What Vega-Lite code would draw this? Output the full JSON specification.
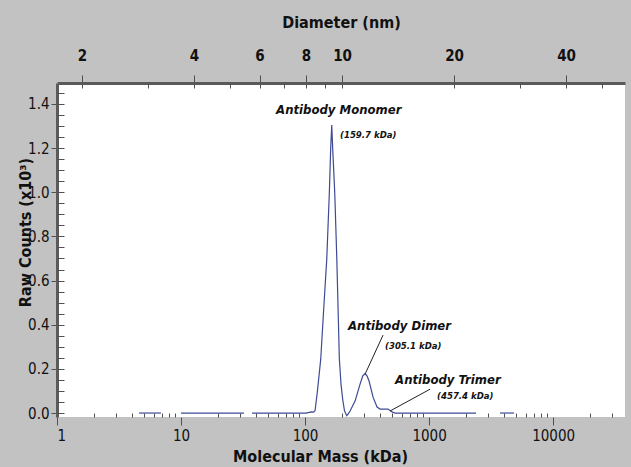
{
  "$schema": "https://vega.github.io/schema/vega-lite/v6.json",
  "width": 568,
  "height": 334,
  "autosize": {"type": "none"},
  "padding": {"left": 57, "top": 83, "right": 6, "bottom": 50},
  "background": "#c2c2c2",
  "config": {
    "view": {"fill": "white", "stroke": null},
    "font": "DejaVu Sans Condensed, Liberation Sans, sans-serif",
    "axis": {
      "labelFont": "DejaVu Sans Condensed, Liberation Sans, sans-serif",
      "titleFont": "DejaVu Sans Condensed, Liberation Sans, sans-serif",
      "labelColor": "#111111",
      "titleColor": "#111111",
      "tickColor": "#505050",
      "domainColor": "#5a5a5a",
      "grid": false,
      "labelFontSize": 15,
      "titleFontSize": 16,
      "titleFontWeight": "bold"
    }
  },
  "datasets": {
    "curve": [
      {"mass": 4.58, "counts": 0, "seg": 1},
      {"mass": 6.9, "counts": 0, "seg": 1},
      {"mass": 10.0, "counts": 0, "seg": 2},
      {"mass": 32.2, "counts": 0, "seg": 2},
      {"mass": 37.4, "counts": 0, "seg": 3},
      {"mass": 101.9, "counts": 0, "seg": 3},
      {"mass": 108, "counts": 0.003, "seg": 3},
      {"mass": 113, "counts": 0.005, "seg": 3},
      {"mass": 117, "counts": 0.004, "seg": 3},
      {"mass": 120.4, "counts": 0.01, "seg": 3},
      {"mass": 125.6, "counts": 0.095, "seg": 3},
      {"mass": 133.8, "counts": 0.244, "seg": 3},
      {"mass": 141, "counts": 0.46, "seg": 3},
      {"mass": 149.6, "counts": 0.696, "seg": 3},
      {"mass": 157.0, "counts": 0.998, "seg": 3},
      {"mass": 161, "counts": 1.2, "seg": 3},
      {"mass": 164.2, "counts": 1.305, "seg": 3},
      {"mass": 167, "counts": 1.2, "seg": 3},
      {"mass": 173.6, "counts": 0.998, "seg": 3},
      {"mass": 180.4, "counts": 0.696, "seg": 3},
      {"mass": 189.1, "counts": 0.244, "seg": 3},
      {"mass": 195, "counts": 0.13, "seg": 3},
      {"mass": 201.4, "counts": 0.06, "seg": 3},
      {"mass": 208, "counts": 0.01, "seg": 3},
      {"mass": 216.9, "counts": -0.012, "seg": 3},
      {"mass": 223, "counts": -0.004, "seg": 3},
      {"mass": 230.7, "counts": 0.009, "seg": 3},
      {"mass": 253.1, "counts": 0.054, "seg": 3},
      {"mass": 277.7, "counts": 0.131, "seg": 3},
      {"mass": 292, "counts": 0.168, "seg": 3},
      {"mass": 304.7, "counts": 0.178, "seg": 3},
      {"mass": 316, "counts": 0.168, "seg": 3},
      {"mass": 328.2, "counts": 0.145, "seg": 3},
      {"mass": 353.5, "counts": 0.072, "seg": 3},
      {"mass": 380.7, "counts": 0.027, "seg": 3},
      {"mass": 402.5, "counts": 0.018, "seg": 3},
      {"mass": 467.0, "counts": 0.018, "seg": 3},
      {"mass": 502.9, "counts": 0.005, "seg": 3},
      {"mass": 531.8, "counts": 0, "seg": 3},
      {"mass": 2393, "counts": 0, "seg": 3},
      {"mass": 3737, "counts": 0, "seg": 4},
      {"mass": 4849, "counts": 0, "seg": 4}
    ],
    "notes": [
      {"mass": 58.4, "counts": 1.373, "text": "Antibody Monomer", "role": "name"},
      {"mass": 191.5, "counts": 1.26, "text": "(159.7 kDa)", "role": "mass"},
      {"mass": 222, "counts": 0.393, "text": "Antibody Dimer", "role": "name"},
      {"mass": 441.8, "counts": 0.303, "text": "(305.1 kDa)", "role": "mass"},
      {"mass": 532, "counts": 0.149, "text": "Antibody Trimer", "role": "name"},
      {"mass": 1161, "counts": 0.077, "text": "(457.4 kDa)", "role": "mass"}
    ],
    "leaders": [
      {"mass": 304.7, "counts": 0.176, "mass2": 425.6, "counts2": 0.353},
      {"mass": 484, "counts": 0.009, "mass2": 1019, "counts2": 0.108}
    ],
    "diam": [
      {"d": 2}, {"d": 4}, {"d": 10}, {"d": 40}
    ]
  },
  "layer": [
    {
      "data": {"name": "curve"},
      "mark": {"type": "line", "color": "#3d4b94", "strokeWidth": 1.2, "clip": true},
      "encoding": {
        "x": {
          "field": "mass", "type": "quantitative",
          "scale": {"type": "log", "domain": [1, 38000], "nice": false},
          "axis": {
            "orient": "bottom", "values": [1, 10, 100, 1000, 10000], "format": "d",
            "tickSize": 8, "tickWidth": 1, "domain": false, "labelPadding": 3,
            "title": "Molecular Mass (kDa)", "titleX": 263, "titlePadding": 5
          }
        },
        "y": {
          "field": "counts", "type": "quantitative",
          "scale": {"domain": [-0.018, 1.495], "nice": false, "zero": false},
          "axis": {
            "orient": "left", "values": [0, 0.2, 0.4, 0.6, 0.8, 1.0, 1.2, 1.4], "format": ".1f",
            "tickSize": 6, "domain": true, "domainWidth": 3, "labelPadding": 2,
            "title": "Raw Counts (x10³)", "titleX": -32, "titleY": 149, "titleBaseline": "middle"
          }
        },
        "detail": {"field": "seg", "type": "nominal"}
      }
    },
    {
      "data": {"name": "curve"},
      "mark": {"type": "line", "opacity": 0},
      "encoding": {
        "x": {
          "field": "mass", "type": "quantitative",
          "scale": {"type": "log", "domain": [1, 38000], "nice": false},
          "axis": {
            "orient": "bottom",
            "values": [2, 3, 4, 5, 6, 7, 8, 9, 20, 30, 40, 50, 60, 70, 80, 90, 200, 300, 400, 500, 600, 700, 800, 900, 2000, 3000, 4000, 5000, 6000, 7000, 8000, 9000, 20000, 30000],
            "tickSize": -4, "labels": false, "domain": false, "title": null
          }
        },
        "y": {
          "field": "counts", "type": "quantitative",
          "scale": {"domain": [-0.018, 1.495], "nice": false, "zero": false},
          "axis": {
            "orient": "left",
            "values": [0, 0.05, 0.1, 0.15, 0.2, 0.25, 0.3, 0.35, 0.4, 0.45, 0.5, 0.55, 0.6, 0.65, 0.7, 0.75, 0.8, 0.85, 0.9, 0.95, 1.0, 1.05, 1.1, 1.15, 1.2, 1.25, 1.3, 1.35, 1.4, 1.45],
            "tickSize": -7, "labels": false, "domain": false, "title": null
          }
        },
        "detail": {"field": "seg", "type": "nominal"}
      }
    },
    {
      "data": {"name": "diam"},
      "mark": {"type": "point", "opacity": 0},
      "encoding": {
        "x": {
          "field": "d", "type": "quantitative",
          "scale": {"type": "log", "domain": [1.713, 57.6], "nice": false},
          "axis": {
            "orient": "top", "values": [2, 4, 6, 8, 10, 20, 40], "format": "d",
            "tickSize": 8, "domain": true, "domainWidth": 3, "labelPadding": 12,
            "labelFontWeight": "bold",
            "title": "Diameter (nm)", "titlePadding": 18
          }
        }
      }
    },
    {
      "data": {"name": "diam"},
      "mark": {"type": "point", "opacity": 0},
      "encoding": {
        "x": {
          "field": "d", "type": "quantitative",
          "scale": {"type": "log", "domain": [1.713, 57.6], "nice": false},
          "axis": {
            "orient": "top", "values": [2, 3, 4, 5, 6, 7, 8, 9, 10, 20, 30, 40, 50],
            "tickSize": -5, "labels": false, "domain": false, "title": null
          }
        }
      }
    },
    {
      "data": {"name": "leaders"},
      "mark": {"type": "rule", "color": "#222222", "strokeWidth": 1},
      "encoding": {
        "x": {"field": "mass", "type": "quantitative", "scale": {"type": "log", "domain": [1, 38000], "nice": false}, "axis": null},
        "x2": {"field": "mass2"},
        "y": {"field": "counts", "type": "quantitative", "scale": {"domain": [-0.018, 1.495], "nice": false, "zero": false}, "axis": null},
        "y2": {"field": "counts2"}
      }
    },
    {
      "data": {"name": "notes"},
      "transform": [{"filter": "datum.role === 'name'"}],
      "mark": {"type": "text", "align": "left", "baseline": "middle", "font": "DejaVu Sans Condensed, Liberation Sans, sans-serif", "fontSize": 13, "fontStyle": "italic", "fontWeight": "bold", "color": "#111111"},
      "encoding": {
        "x": {"field": "mass", "type": "quantitative", "scale": {"type": "log", "domain": [1, 38000], "nice": false}, "axis": null},
        "y": {"field": "counts", "type": "quantitative", "scale": {"domain": [-0.018, 1.495], "nice": false, "zero": false}, "axis": null},
        "text": {"field": "text"}
      }
    },
    {
      "data": {"name": "notes"},
      "transform": [{"filter": "datum.role === 'mass'"}],
      "mark": {"type": "text", "align": "left", "baseline": "middle", "font": "DejaVu Sans Condensed, Liberation Sans, sans-serif", "fontSize": 9.5, "fontStyle": "italic", "fontWeight": "bold", "color": "#111111"},
      "encoding": {
        "x": {"field": "mass", "type": "quantitative", "scale": {"type": "log", "domain": [1, 38000], "nice": false}, "axis": null},
        "y": {"field": "counts", "type": "quantitative", "scale": {"domain": [-0.018, 1.495], "nice": false, "zero": false}, "axis": null},
        "text": {"field": "text"}
      }
    }
  ],
  "resolve": {
    "scale": {"x": "independent", "y": "independent"},
    "axis": {"x": "independent", "y": "independent"}
  }
}
